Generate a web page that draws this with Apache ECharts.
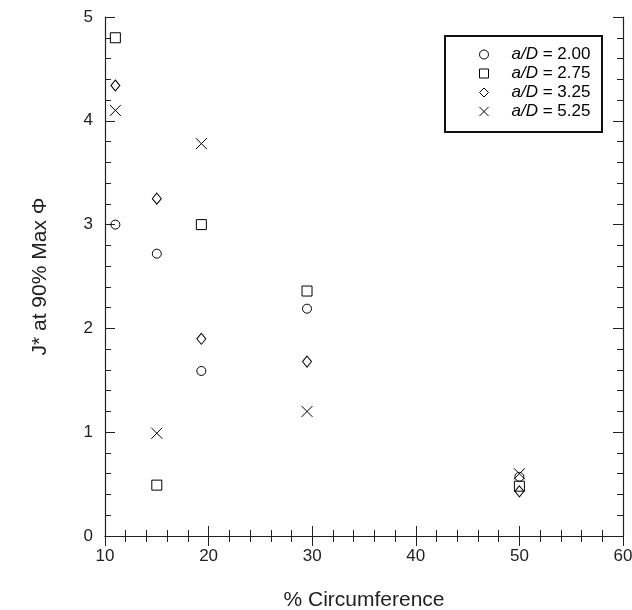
<!DOCTYPE html>
<html>
<head>
<meta charset="utf-8">
<script src="https://cdn.jsdelivr.net/npm/echarts@6/dist/echarts.min.js"></script>
<style>
html, body { margin: 0; padding: 0; background: #fff; }
#echarts { width: 632px; height: 610px; }
</style>
</head>
<body>
<div id="echarts"></div>
<script>
var pctCirc = [11, 15, 19.3, 29.5, 50];
var ratios = ['2.00', '2.75', '3.25', '5.25'];
var j200 = [3.0, 2.72, 1.59, 2.19, 0.57];
var j275 = [4.8, 0.49, 3.0, 2.36, 0.48];
var j325 = [4.34, 3.25, 1.9, 1.68, 0.43];
var j525 = [4.1, 0.99, 3.78, 1.2, 0.6];

var myChart = echarts.init(document.getElementById('echarts'));
var font = 'Liberation Sans, Arial, sans-serif';

function pairs(ys) {
    return pctCirc.map(function (x, i) { return [x, ys[i]]; });
}

var symbols = [
    { s: 'circle', size: 9 },
    { s: 'rect', size: 10 },
    { s: 'diamond', size: [9, 11] },
    { s: 'path://M0,0L10,10M0,10L10,0', size: 11 }
];
var values = [j200, j275, j325, j525];

var series = ratios.map(function (r, k) {
    return {
        name: r,
        type: 'scatter',
        data: pairs(values[k]),
        symbol: symbols[k].s,
        symbolSize: symbols[k].size,
        itemStyle: { color: 'rgba(0,0,0,0)', borderColor: '#000', borderWidth: 1, opacity: 1 },
        emphasis: { disabled: true }
    };
});

var tickBase = {
    axisLine: { show: true, lineStyle: { color: '#222', width: 1.2 } },
    axisTick: { show: true, inside: true, length: 10, lineStyle: { color: '#222' } },
    minorTick: { show: true, splitNumber: 5, length: 6, lineStyle: { color: '#222' } },
    splitLine: { show: false }
};

var option = {
    animation: false,
    grid: { left: 105, right: 9, top: 17, bottom: 74, outerBoundsMode: 'none' },
    legend: {
        orient: 'vertical',
        left: 479,
        top: 45,
        padding: 0,
        itemGap: 0,
        itemWidth: 9,
        itemHeight: 9,
        data: ratios,
        itemStyle: { borderWidth: 1, borderColor: '#000', color: 'rgba(0,0,0,0)' },
        formatter: function (name) { return '{i|a/D} = ' + name; },
        textStyle: {
            fontFamily: font, fontSize: 17, color: '#000', lineHeight: 19,
            rich: { i: { fontStyle: 'italic', fontFamily: font, fontSize: 17, color: '#000', lineHeight: 19, padding: [0, 0, 0, 18] } }
        }
    },
    graphic: [{
        type: 'rect',
        shape: { x: 445, y: 36, width: 157, height: 96 },
        style: { fill: 'none', stroke: '#111', lineWidth: 2 }
    }],
    xAxis: [
        Object.assign({
            type: 'value', min: 10, max: 60, interval: 10,
            name: '% Circumference', nameLocation: 'middle', nameGap: 54,
            nameTextStyle: { fontFamily: font, fontSize: 21, color: '#222' },
            axisLabel: { fontFamily: font, fontSize: 17, color: '#222', margin: 12 }
        }, tickBase),
        Object.assign({
            type: 'value', position: 'top', min: 10, max: 60, interval: 10,
            axisLabel: { show: false }
        }, tickBase)
    ],
    yAxis: [
        Object.assign({
            type: 'value', min: 0, max: 5, interval: 1,
            name: 'J* at 90% Max \u03a6', nameLocation: 'middle', nameGap: 54,
            nameTextStyle: { fontFamily: font, fontSize: 21, color: '#222' },
            axisLabel: { fontFamily: font, fontSize: 17, color: '#222', margin: 12 }
        }, tickBase),
        Object.assign({
            type: 'value', position: 'right', min: 0, max: 5, interval: 1,
            axisLabel: { show: false }
        }, tickBase)
    ],
    series: series
};
myChart.setOption(option);
</script>
</body>
</html>
